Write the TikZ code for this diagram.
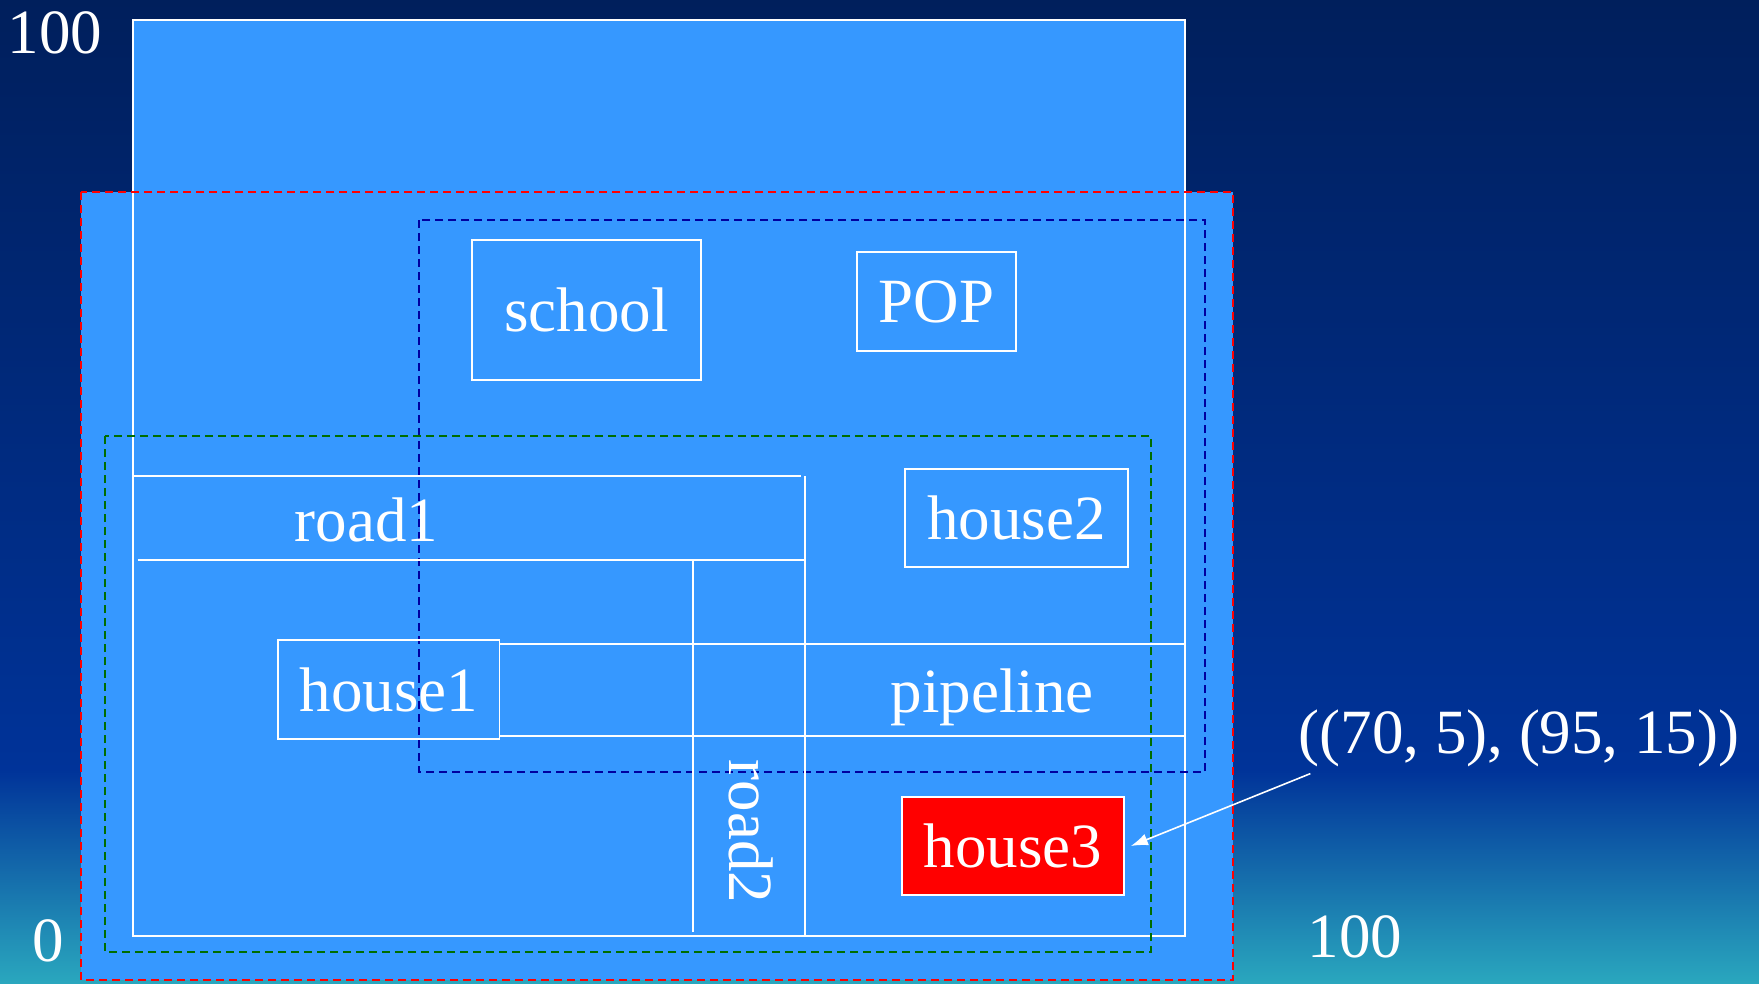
\documentclass[tikz,border=0pt]{standalone}
\usepackage{fontspec}
\setmainfont{Liberation Serif}
\usetikzlibrary{arrows.meta}
\definecolor{navytop}{RGB}{0,31,92}
\definecolor{midblue}{RGB}{0,51,153}
\definecolor{tealbot}{RGB}{42,167,190}
\definecolor{lightblue}{RGB}{54,152,255}
\definecolor{dashblue}{RGB}{0,0,160}
\definecolor{dashgreen}{RGB}{0,110,0}
\tikzset{
  txt/.style={text=white, inner sep=0pt, font=\fontsize{63}{70}\selectfont},
  wline/.style={draw=white, line width=1.7pt},
  boxnode/.style={wline, txt, minimum width=#1},
  dashbox/.style={line width=1.4pt, dash pattern=on 8pt off 5pt},
  arrowline/.style={draw=white, line width=1.6pt, -{Latex[length=17pt,width=12pt]}}
}
\begin{document}
\begin{tikzpicture}[x=1pt,y=-1pt]
\useasboundingbox (0,0) rectangle (1759,983);
% background
\shade[top color=navytop, bottom color=midblue] (0,0) rectangle (1759,771);
\shade[top color=midblue, bottom color=tealbot] (0,770) rectangle (1759,983);
% light blue areas
\fill[lightblue] (81,192) rectangle (1233,980);
\fill[lightblue] (133,20) rectangle (1185,936);
% outer white frame
\draw[wline] (133,20) rectangle (1185,936);
% dashed regions
\draw[dashbox, draw=red] (81,192) rectangle (1233,980);
\draw[dashbox, draw=dashblue] (419,220) rectangle (1205,772);
\draw[dashbox, draw=dashgreen] (105,436) rectangle (1151,952);
% road1
\draw[wline] (133,476) -- (801,476);
\draw[wline] (137.5,560) -- (805,560);
\draw[wline] (805,476) -- (805,936);
\node[txt, anchor=base] (road1) at (366.5,541) {road1};
% road2
\draw[wline] (693,560) -- (693,932);
\node[txt, anchor=base, rotate=-90] (road2) at (729,831.5) {road2};
% boxes
\node[wline, txt, minimum width=229pt, minimum height=140pt] (school) at (586.5,310) {school};
\node[wline, txt, minimum width=159pt, minimum height=99pt] (pop) at (936.5,301.5) {POP};
\node[wline, txt, minimum width=223pt, minimum height=98pt] (house2) at (1016.5,518) {house2};
\node[wline, txt, minimum width=221.5pt, minimum height=99pt] (house1) at (388.75,689.5) {house1};
\node[wline, txt, fill=red, minimum width=222pt, minimum height=98pt] (house3) at (1013,846) {house3};
% pipeline
\draw[wline] (house1.east |- 0,644) -- (1185,644);
\draw[wline] (house1.east |- 0,736) -- (1185,736);
\node[txt, anchor=base] (pipeline) at (992,712) {pipeline};
% axis labels
\node[txt, anchor=base] (ytop) at (55,53) {100};
\node[txt, anchor=base] (origin) at (48.5,961) {0};
\node[txt, anchor=base] (xright) at (1355,957) {100};
% annotation
\node[txt, anchor=base] (lbl) at (1519,753) {((70, 5), (95, 15))};
\draw[arrowline] ([xshift=12pt,yshift=-7pt]lbl.south west) -- ([xshift=6pt]house3.east);
\end{tikzpicture}
\end{document}
